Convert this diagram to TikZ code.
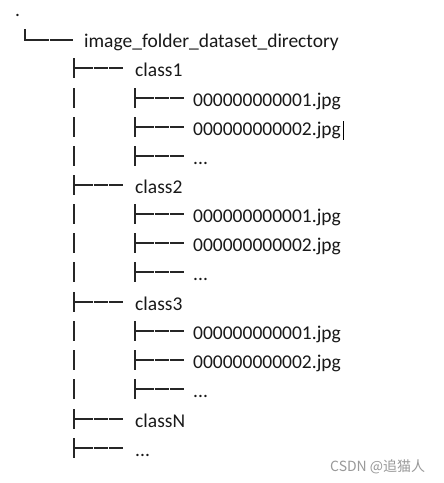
\documentclass[tikz,border=0pt]{standalone}
\usepackage{fontspec}
\setmainfont{Carlito}
\newfontfamily\cjkfont{Noto Sans CJK SC}
\newcommand\tbranch[2]{%
  \draw[glyph] (#1,#2-18) -- (#1,#2+2);
  \draw[glyph] (#1,#2-8) -- (#1+18.5,#2-8);
  \draw[glyph] (#1+19.5,#2-8) -- (#1+33.5,#2-8);
  \draw[glyph] (#1+34.5,#2-8) -- (#1+49,#2-8);
}
\newcommand\tpipe[2]{%
  \draw[glyph] (#1,#2-18) -- (#1,#2+2);
}
\begin{document}
\begin{tikzpicture}[x=1pt,y=-1pt,
  glyph/.style={line width=1.1pt,draw=black!85},
  txt/.style={inner sep=0pt,anchor=base west,font=\fontsize{19.5}{22}\selectfont,text=black!90}]
\useasboundingbox (0,0) rectangle (444,483);
\fill[white] (0,0) rectangle (444,483);
% root
\node[txt] (dot) at (15,16) {.};
\draw[glyph] (25,29) -- (25,40) -- (48.5,40);
\draw[glyph] (49.5,40) -- (73,40);
\node[txt] (root) at (84,47) {image\_folder\_dataset\_directory};
% class1
\tbranch{74}{76}
\node[txt] (c1) at (135,76) {class1};
\tpipe{74}{106}\tbranch{135}{106}
\node[txt] (c1a) at (193,106) {000000000001.jpg};
\tpipe{74}{135}\tbranch{135}{135}
\node[txt] (c1b) at (193,135) {000000000002.jpg};
\draw[line width=1pt] (343.5,121) -- (343.5,140);
\tpipe{74}{164}\tbranch{135}{164}
\node[txt] (c1c) at (193,164) {...};
% class2
\tbranch{74}{193}
\node[txt] (c2) at (135,193) {class2};
\tpipe{74}{222}\tbranch{135}{222}
\node[txt] (c2a) at (193,222) {000000000001.jpg};
\tpipe{74}{251}\tbranch{135}{251}
\node[txt] (c2b) at (193,251) {000000000002.jpg};
\tpipe{74}{280}\tbranch{135}{280}
\node[txt] (c2c) at (193,280) {...};
% class3
\tbranch{74}{310}
\node[txt] (c3) at (135,310) {class3};
\tpipe{74}{339}\tbranch{135}{339}
\node[txt] (c3a) at (193,339) {000000000001.jpg};
\tpipe{74}{368}\tbranch{135}{368}
\node[txt] (c3b) at (193,368) {000000000002.jpg};
\tpipe{74}{397}\tbranch{135}{397}
\node[txt] (c3c) at (193,397) {...};
% classN
\tbranch{74}{427}
\node[txt] (cN) at (135,427) {classN};
\tbranch{74}{456}
\node[txt] (cM) at (135,456) {...};
% watermark
\node[inner sep=0pt,anchor=base west,text=black!40,font=\fontsize{14}{16}\selectfont\cjkfont] (wm) at (330,471) {CSDN @追猫人};
\end{tikzpicture}
\end{document}
